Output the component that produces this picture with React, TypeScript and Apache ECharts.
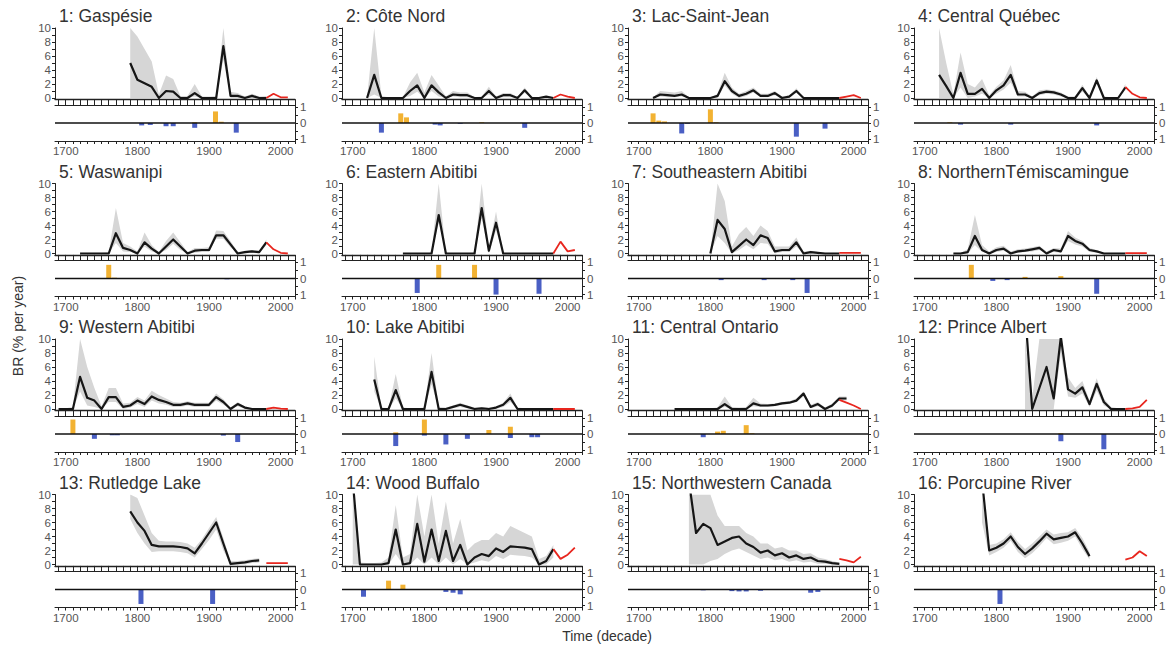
import React, { useEffect, useRef } from "react";
import * as echarts from "echarts";

const titles = [
  "1: Gaspésie", "2: Côte Nord", "3: Lac-Saint-Jean", "4: Central Québec",
  "5: Waswanipi", "6: Eastern Abitibi", "7: Southeastern Abitibi", "8: NorthernTémiscamingue",
  "9: Western Abitibi", "10: Lake Abitibi", "11: Central Ontario", "12: Prince Albert",
  "13: Rutledge Lake", "14: Wood Buffalo", "15: Northwestern Canada", "16: Porcupine River",
];

// first decade of the black (reconstructed) line for each region
const blackStart = [1790, 1720, 1720, 1720, 1720, 1770, 1800, 1740, 1690, 1730, 1750, 1840, 1790, 1700, 1770, 1780];

// burn rate, decadal values (black line)
const blackValues = [
  [5.0, 2.6, 2.1, 1.6, 0, 1.0, 0.9, 0, 0, 0.7, 0, 0, 0, 7.4, 0.3, 0.3, 0, 0.3, 0, 0],
  [0, 3.3, 0, 0, 0, 0, 1.0, 1.8, 0, 1.8, 0.8, 0, 0.5, 0.4, 0.4, 0, 0, 1.0, 0, 0.4, 0.4, 0, 1.1, 0, 0, 0.2, 0],
  [0, 0.5, 0.4, 0.3, 0.5, 0, 0, 0, 0, 0.3, 2.4, 1.0, 0.3, 0.6, 1.1, 0.3, 0.3, 0.7, 0, 0.2, 1.0, 0, 0, 0, 0, 0, 0],
  [3.3, 1.7, 0, 3.6, 0.6, 0.6, 1.3, 0, 1.1, 1.8, 3.3, 0.5, 0.5, 0, 0.7, 0.9, 0.8, 0.5, 0, 0, 1.4, 0, 2.5, 0, 0, 0, 1.5],
  [0, 0, 0, 0, 0, 2.9, 0.8, 0.5, 0, 1.6, 0.7, 0, 1.0, 2.0, 1.0, 0, 0.4, 0.5, 0.5, 2.6, 2.6, 1.3, 0, 0.2, 0.3, 0.2, 1.6],
  [0, 0, 0, 0, 0, 5.5, 0, 0, 0, 0, 0, 6.5, 0.4, 4.4, 0, 0, 0, 0, 0, 0, 0, 0],
  [0, 4.8, 3.5, 0.2, 1.1, 2.0, 1.2, 2.6, 2.2, 0.3, 0.5, 0.5, 1.6, 0, 0.2, 0.1, 0, 0, 0],
  [0, 0, 0.2, 2.5, 0.5, 0, 0.5, 0.7, 0, 0.3, 0.4, 0.6, 0.8, 0, 0.5, 0.3, 2.5, 1.8, 1.4, 0.5, 0.3, 0, 0, 0, 0],
  [0, 0, 0, 4.6, 1.6, 1.2, 0, 1.7, 1.7, 0.3, 0.5, 1.2, 0.7, 1.8, 1.3, 1.0, 0.6, 0.6, 0.8, 0.6, 0.6, 0.6, 1.7, 1.0, 0, 0.7, 0.2, 0, 0, 0],
  [4.2, 0, 0, 2.7, 0, 0, 0, 0, 5.3, 0, 0, 0.3, 0.6, 0.3, 0, 0.1, 0, 0.2, 0.6, 1.6, 0, 0, 0, 0, 0, 0],
  [0, 0, 0, 0, 0, 0, 0, 0.7, 0, 0, 0, 0.8, 0.5, 0.5, 0.6, 0.8, 0.9, 1.2, 2.2, 0.3, 0.7, 0, 0.5, 1.5, 1.5],
  [14, 0, 3.0, 6.0, 1.5, 10.3, 2.8, 2.2, 3.1, 0.7, 3.6, 1.0, 0, 0, 0],
  [7.6, 6.0, 4.8, 2.8, 2.6, 2.6, 2.6, 2.5, 2.3, 1.6, 3.0, 4.5, 6.0, 3.0, 0.1, 0.2, 0.3, 0.5, 0.6],
  [12, 0, 0, 0, 0, 0.2, 5.0, 0, 0.2, 5.8, 0.4, 5.0, 0.5, 4.8, 0.5, 2.8, 0, 1.0, 1.5, 1.2, 2.3, 1.8, 2.6, 2.5, 2.4, 2.2, 0, 0.5, 2.2],
  [12, 4.5, 5.8, 5.2, 2.8, 3.3, 3.8, 4.0, 3.0, 2.5, 1.7, 2.0, 1.3, 1.6, 1.0, 1.3, 0.8, 1.0, 0.5, 0.4, 0.2, 0.1],
  [12, 2.0, 2.4, 3.0, 4.0, 2.5, 1.5, 2.3, 3.3, 4.4, 3.6, 3.8, 4.0, 4.6, 3.0, 1.2],
];

// upper and lower limits of the grey confidence band (same decades as the black line)
const bandHigh = [
  [10, 8.8, 7.0, 5.2, 0.5, 3.2, 2.7, 0.3, 0.3, 2.0, 0.2, 0.2, 0.3, 10, 0.9, 0.7, 0.2, 0.6, 0.2, 0.3],
  [0.1, 10, 0.3, 0.1, 0.1, 0.1, 2.2, 3.6, 0.8, 3.3, 1.8, 0.2, 1.0, 0.8, 0.8, 0.1, 0.2, 1.6, 0.2, 0.7, 0.7, 0.1, 1.5, 0.1, 0.1, 0.3, 0.1],
  [0.1, 1.0, 0.9, 0.8, 1.0, 0.1, 0.05, 0.05, 0.05, 0.6, 3.6, 1.5, 0.6, 1.0, 1.5, 0.6, 0.6, 1.0, 0.2, 0.4, 1.4, 0.1, 0.1, 0.1, 0.1, 0.1, 0.1],
  [10, 5, 0.5, 6.5, 2, 1.5, 2.7, 0.4, 1.6, 2.5, 4.7, 1.0, 0.9, 0.2, 1.1, 1.2, 1.1, 0.8, 0.2, 0.2, 1.9, 0.2, 3.0, 0.2, 0.1, 0.1, 2.0],
  [0.1, 0.1, 0.1, 0.1, 0.2, 6.5, 1.5, 1.0, 0.3, 3.0, 1.2, 0.2, 1.8, 3.0, 1.6, 0.2, 0.8, 0.8, 0.9, 3.3, 3.2, 1.8, 0.2, 0.4, 0.5, 0.4, 2.0],
  [0.05, 0.05, 0.05, 0.05, 0.1, 10, 0.1, 0.05, 0.05, 0.05, 0.1, 10, 0.8, 6.0, 0.1, 0.05, 0.05, 0.05, 0.05, 0.05, 0.05, 0.05],
  [0, 10, 7.5, 1.0, 2.8, 3.8, 2.5, 4.0, 3.2, 1.0, 1.0, 1.0, 2.3, 0.3, 0.4, 0.2, 0.1, 0.1, 0.1],
  [0.1, 0.1, 0.6, 5.5, 1.2, 0.3, 0.9, 1.1, 0.3, 0.6, 0.7, 0.9, 1.1, 0.3, 0.8, 0.7, 3.2, 2.3, 1.8, 0.8, 0.5, 0.1, 0.1, 0.1, 0.1],
  [0.1, 0.1, 0.3, 10, 6, 3, 0.4, 3, 3, 0.8, 0.9, 1.7, 1.2, 2.6, 2.0, 1.5, 1.0, 0.9, 1.1, 0.9, 0.9, 0.9, 2.2, 1.4, 0.2, 1.0, 0.4, 0.1, 0.1, 0.1],
  [7.5, 0.2, 0.1, 5, 0.2, 0.1, 0.1, 0.2, 8, 0.3, 0.2, 0.5, 0.9, 0.5, 0.2, 0.3, 0.2, 0.4, 0.9, 2.2, 0.2, 0.1, 0.1, 0.1, 0.1, 0.1],
  [0.1, 0.1, 0.1, 0.1, 0.1, 0.1, 0.2, 1.8, 0.3, 0.2, 0.3, 1.6, 0.8, 0.7, 0.8, 1.0, 1.1, 1.5, 2.5, 0.6, 1.0, 0.2, 0.8, 1.8, 1.8],
  [10, 1.5, 10, 10, 10, 10, 4.5, 3.0, 4.0, 1.2, 4.4, 1.5, 0.3, 0.1, 0.1],
  [10, 9.5, 7.0, 4.5, 3.4, 3.3, 3.3, 3.2, 3.0, 2.4, 3.6, 5.2, 6.8, 3.8, 0.5, 0.5, 0.6, 0.8, 0.9],
  [10, 0.3, 0.2, 0.2, 0.3, 1.0, 8.5, 1.0, 1.5, 10, 4.0, 10, 3.0, 9.0, 3.0, 6.5, 2.0, 3.0, 3.5, 3.5, 4.5, 4.0, 5.5, 5.0, 4.5, 4.0, 0.8, 1.2, 2.8],
  [10, 10, 10, 10, 7, 5.5, 5.5, 5.5, 4.5, 4.0, 3.0, 3.0, 2.3, 2.5, 2.0, 2.0, 1.5, 1.6, 1.0, 0.8, 0.5, 0.3],
  [10, 2.8, 3.0, 3.6, 4.6, 3.2, 2.2, 3.0, 4.0, 5.0, 4.3, 4.5, 4.6, 5.2, 3.8, 1.8],
];
const bandLow = [
  [0, 0, 0, 0, 0, 0, 0, 0, 0, 0.2, 0, 0, 0, 5.5, 0, 0, 0, 0, 0, 0],
  [0, 0.5, 0, 0, 0, 0, 0.3, 0.9, 0, 1.0, 0.2, 0, 0.2, 0.1, 0.1, 0, 0, 0.5, 0, 0.1, 0.1, 0, 0.7, 0, 0, 0, 0],
  [0, 0.2, 0.1, 0.1, 0.2, 0, 0, 0, 0, 0, 1.8, 0.6, 0, 0.3, 0.8, 0.1, 0.1, 0.4, 0, 0, 0.7, 0, 0, 0, 0, 0, 0],
  [0, 0, 0, 1.5, 0, 0.2, 0.6, 0, 0.6, 1.2, 2.2, 0.2, 0.2, 0, 0.4, 0.6, 0.5, 0.2, 0, 0, 0.9, 0, 2.0, 0, 0, 0, 1.1],
  [0, 0, 0, 0, 0, 1.5, 0.3, 0.2, 0, 1.0, 0.3, 0, 0.5, 1.4, 0.5, 0, 0.1, 0.2, 0.2, 2.1, 2.1, 0.9, 0, 0, 0.1, 0, 1.2],
  [0, 0, 0, 0, 0, 4.5, 0, 0, 0, 0, 0, 5.0, 0, 3.3, 0, 0, 0, 0, 0, 0, 0, 0],
  [0, 2.5, 1.5, 0, 0.5, 1.2, 0.6, 1.5, 1.4, 0, 0.2, 0.2, 1.0, 0, 0, 0, 0, 0, 0],
  [0, 0, 0, 1.2, 0.2, 0, 0.2, 0.4, 0, 0.1, 0.2, 0.3, 0.5, 0, 0.2, 0.1, 1.8, 1.3, 1.0, 0.2, 0.1, 0, 0, 0, 0],
  [0, 0, 0, 2.5, 0.5, 0.3, 0, 1.0, 1.0, 0, 0.2, 0.7, 0.3, 1.2, 0.8, 0.6, 0.3, 0.3, 0.5, 0.3, 0.3, 0.3, 1.2, 0.6, 0, 0.4, 0, 0, 0, 0],
  [2.5, 0, 0, 1.5, 0, 0, 0, 0, 3.5, 0, 0, 0.1, 0.3, 0.1, 0, 0, 0, 0, 0.3, 1.0, 0, 0, 0, 0, 0, 0],
  [0, 0, 0, 0, 0, 0, 0, 0.3, 0, 0, 0, 0.4, 0.3, 0.3, 0.4, 0.6, 0.7, 1.0, 1.8, 0.1, 0.4, 0, 0.2, 1.2, 1.2],
  [0, 0, 0, 0, 0, 8, 1.8, 1.6, 2.2, 0.3, 2.6, 0.5, 0, 0, 0],
  [6.5, 4.5, 3.0, 1.8, 1.9, 1.9, 1.9, 1.8, 1.6, 1.0, 2.2, 3.5, 5.0, 2.0, 0, 0, 0, 0.2, 0.3],
  [0, 0, 0, 0, 0, 0, 1.5, 0, 0, 1.0, 0, 1.0, 0, 1.0, 0, 0.8, 0, 0.3, 0.6, 0.4, 1.2, 0.8, 1.4, 1.3, 1.2, 1.0, 0, 0, 1.0],
  [0, 0, 0, 0.5, 0.8, 1.5, 2.0, 2.3, 1.8, 1.3, 0.8, 1.0, 0.6, 0.8, 0.4, 0.6, 0.3, 0.4, 0.1, 0.1, 0, 0],
  [6, 1.3, 1.8, 2.4, 3.4, 1.8, 0.9, 1.6, 2.6, 3.8, 2.9, 3.1, 3.4, 4.0, 2.2, 0.7],
];

// red line: recent decades 1980-2010
const redStart = 1980;
const redValues = [
  [0, 0.6, 0.1, 0.1], [0, 0.5, 0.2, 0], [0, 0.2, 0.4, 0], [1.6, 0.6, 0.1, 0],
  [1.6, 0.6, 0.1, 0], [0, 1.7, 0.3, 0.5], [0.1, 0.1, 0.1, 0.1], [0.05, 0.05, 0.05, 0.05],
  [0, 0.2, 0.05, 0], [0, 0, 0, 0], [1.3, 0.9, 0.5, 0], [0, 0.1, 0.3, 1.3],
  [0.2, 0.2, 0.2, 0.2], [2.2, 0.8, 1.4, 2.4], [0.8, 0.6, 0.3, 1.1], [0.7, 1.0, 1.9, 1.2],
];

// lower panels: positive (orange) and negative (blue) anomalies, [year, value]
const posBars = [
  [[1880, 0.05], [1909, 0.72], [1917, 0.08]],
  [[1767, 0.6], [1775, 0.35], [1880, 0.05]],
  [[1720, 0.6], [1728, 0.15], [1736, 0.1], [1800, 0.85], [1808, 0.05]],
  [[1735, 0.05]],
  [[1760, 0.85], [1768, 0.05]],
  [[1820, 0.85], [1870, 0.85]],
  [],
  [[1765, 0.85], [1840, 0.1], [1890, 0.15]],
  [[1710, 0.9]],
  [[1760, 0.1], [1800, 0.9], [1890, 0.25], [1920, 0.45]],
  [[1810, 0.15], [1818, 0.2], [1850, 0.55], [1858, 0.05]],
  [[1890, 0.05]],
  [],
  [[1750, 0.55], [1770, 0.3]],
  [],
  [],
];
const negBars = [
  [[1806, -0.15], [1818, -0.12], [1840, -0.2], [1850, -0.2], [1880, -0.3], [1938, -0.6]],
  [[1740, -0.6], [1815, -0.1], [1822, -0.15], [1850, -0.05], [1940, -0.3]],
  [[1760, -0.65], [1768, -0.05], [1920, -0.85], [1960, -0.35]],
  [[1750, -0.1], [1820, -0.1], [1940, -0.15]],
  [[1925, -0.05], [1955, -0.03]],
  [[1790, -0.9], [1900, -1.0], [1960, -0.95]],
  [[1815, -0.1], [1875, -0.1], [1915, -0.1], [1935, -0.9]],
  [[1795, -0.15], [1815, -0.1], [1940, -0.95]],
  [[1740, -0.3], [1765, -0.08], [1772, -0.08], [1920, -0.1], [1940, -0.5]],
  [[1760, -0.75], [1800, -0.1], [1830, -0.65], [1860, -0.3], [1920, -0.25], [1950, -0.2], [1958, -0.2]],
  [[1790, -0.2]],
  [[1890, -0.45], [1950, -0.95]],
  [[1805, -0.9], [1905, -0.9]],
  [[1715, -0.45], [1830, -0.15], [1840, -0.2], [1850, -0.3]],
  [[1790, -0.05], [1830, -0.1], [1840, -0.12], [1850, -0.12], [1870, -0.08], [1940, -0.2], [1950, -0.15]],
  [[1805, -0.9]],
];

const yearTicks = [1700, 1800, 1900, 2000];
const decadeTicks = Array.from({ length: 34 }, (_, k) => 1690 + k * 10);
const brTicks = [0, 2, 4, 6, 8, 10];
const anomalyTicks = [-1, 0, 1];

const FONT = "'Liberation Sans', Arial, Helvetica, sans-serif";
const COLX = [0, 287, 573, 859];
const ROWY = [0, 155.5, 311, 466.5];
const XMIN = 1685;
const XMAX = 2020;

function buildOption() {
  const grid: any[] = [];
  const xAxis: any[] = [];
  const yAxis: any[] = [];
  const series: any[] = [];
  const title: any[] = [];
  const axisLineStyle = { color: "#222", width: 1 };
  const labelStyle = { fontSize: 11.5, color: "#555", fontFamily: FONT };

  titles.forEach((t, i) => {
    const c = i % 4;
    const r = Math.floor(i / 4);
    const left = 55 + COLX[c];
    title.push({
      text: t,
      left: 59 + COLX[c],
      top: 7 + ROWY[r],
      padding: 0,
      textStyle: { fontSize: 17.5, fontWeight: "normal", color: "#333", fontFamily: FONT },
    });
    grid.push({ left, top: 28 + ROWY[r], width: 240, height: 71.4 });
    grid.push({ left, top: 105 + ROWY[r], width: 240, height: 36 });
    const gTop = 2 * i;
    const gBar = 2 * i + 1;
    xAxis.push({
      gridIndex: gTop, type: "value", min: XMIN, max: XMAX,
      axisLine: { show: true, onZero: false, lineStyle: { color: "#222", width: 1.4 } },
      axisTick: { show: true, customValues: decadeTicks, length: 3, lineStyle: axisLineStyle },
      axisLabel: { show: false }, splitLine: { show: false },
    });
    xAxis.push({
      gridIndex: gBar, type: "value", min: XMIN, max: XMAX, position: "bottom",
      axisLine: { show: true, onZero: false, lineStyle: axisLineStyle },
      axisTick: { show: true, customValues: decadeTicks, length: 3, lineStyle: axisLineStyle },
      axisLabel: { ...labelStyle, customValues: yearTicks, margin: 4, formatter: (v: number) => String(v) },
      splitLine: { show: false },
    });
    xAxis.push({
      gridIndex: gBar, type: "value", min: XMIN, max: XMAX, position: "top",
      axisLine: { show: true, onZero: false, lineStyle: axisLineStyle },
      axisTick: { show: true, customValues: decadeTicks, length: 3, lineStyle: axisLineStyle },
      axisLabel: { show: false }, splitLine: { show: false },
    });
    yAxis.push({
      gridIndex: gTop, type: "value", min: -0.2, max: 10,
      axisLine: { show: true, lineStyle: axisLineStyle },
      axisTick: { show: true, customValues: [0, 1, 2, 3, 4, 5, 6, 7, 8, 9, 10], length: 3, lineStyle: axisLineStyle },
      axisLabel: { ...labelStyle, customValues: brTicks, margin: 4, formatter: (v: number) => String(v) },
      splitLine: { show: false },
    });
    yAxis.push({
      gridIndex: gBar, type: "value", min: -1.12, max: 1.12, position: "right",
      axisLine: { show: true, onZero: false, lineStyle: axisLineStyle },
      axisTick: { show: true, customValues: [-1, -0.5, 0, 0.5, 1], length: 3, lineStyle: axisLineStyle },
      axisLabel: {
        ...labelStyle, customValues: anomalyTicks, margin: 5,
        formatter: (v: number) => String(Math.abs(v)),
      },
      splitLine: { show: false },
    });

    const years = blackValues[i].map((_, k) => blackStart[i] + 10 * k);
    const hi = bandHigh[i];
    const lo = bandLow[i];
    series.push({
      type: "custom", xAxisIndex: 3 * i, yAxisIndex: gTop, silent: true, clip: true, z: 1,
      data: years.map((y, k) => [y, lo[k], hi[k]]),
      encode: { x: 0, y: [1, 2] },
      renderItem: (params: any, api: any) => {
        if (params.dataIndex !== 0) return null;
        const pts: number[][] = [];
        for (let k = 0; k < years.length; k++) pts.push(api.coord([years[k], hi[k]]));
        for (let k = years.length - 1; k >= 0; k--) pts.push(api.coord([years[k], lo[k]]));
        return { type: "polygon", shape: { points: pts }, style: { fill: "#d6d6d6" } };
      },
    });
    series.push({
      type: "line", xAxisIndex: 3 * i, yAxisIndex: gTop, silent: true, symbol: "none", z: 3,
      data: years.map((y, k) => [y, blackValues[i][k]]),
      lineStyle: { color: "#161616", width: 2.2, join: "round" },
    });
    series.push({
      type: "line", xAxisIndex: 3 * i, yAxisIndex: gTop, silent: true, symbol: "none", z: 4,
      data: redValues[i].map((v, k) => [redStart + 10 * k, v]),
      lineStyle: { color: "#e8261e", width: 1.8 },
    });
    series.push({
      type: "line", xAxisIndex: 3 * i + 1, yAxisIndex: gBar, silent: true, symbol: "none", z: 4,
      data: [[XMIN, 0], [XMAX, 0]],
      lineStyle: { color: "#111", width: 1.3 },
    });
    const bars = [
      ...posBars[i].map((d) => ({ value: d, itemStyle: { color: "#f2b232" } })),
      ...negBars[i].map((d) => ({ value: d, itemStyle: { color: "#4a5fc4" } })),
    ];
    series.push({
      type: "bar", xAxisIndex: 3 * i + 1, yAxisIndex: gBar, silent: true, z: 2,
      barWidth: 5, data: bars,
    });
  });

  return {
    animation: false,
    backgroundColor: "#ffffff",
    title,
    grid,
    xAxis,
    yAxis,
    series,
    graphic: [
      {
        type: "text", x: 18, y: 326, rotation: Math.PI / 2,
        style: { text: "BR (% per year)", font: `14px ${FONT}`, fill: "#333", textAlign: "center", textVerticalAlign: "middle" },
      },
      {
        type: "text", x: 607, y: 636,
        style: { text: "Time (decade)", font: `14px ${FONT}`, fill: "#333", textAlign: "center", textVerticalAlign: "middle" },
      },
    ],
  };
}

export default function App() {
  const ref = useRef<HTMLDivElement>(null);
  useEffect(() => {
    if (!ref.current) return;
    const chart = echarts.init(ref.current, undefined, { renderer: "svg" });
    chart.setOption(buildOption() as any);
    return () => chart.dispose();
  }, []);
  return (
    <div
      ref={ref}
      style={{ position: "absolute", left: 0, top: 0, width: 1173, height: 645, background: "#fff" }}
    />
  );
}
